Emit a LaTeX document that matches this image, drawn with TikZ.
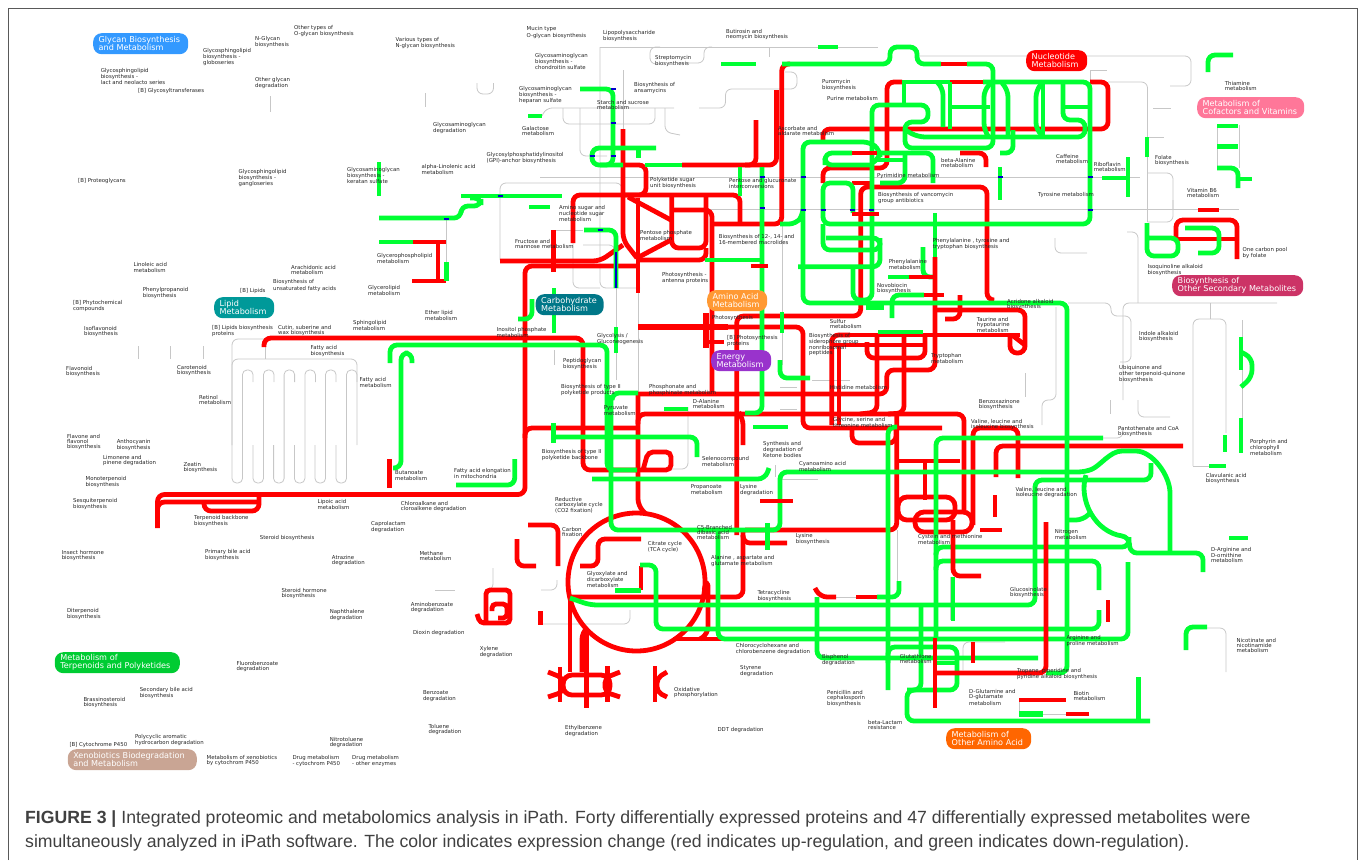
\documentclass[tikz,border=0pt]{standalone}
\usepackage{fontspec}
\setmainfont{DejaVu Sans}
\newfontfamily\capfont{Liberation Sans}
\usepackage{xcolor}
\usepackage{tikz}
\usetikzlibrary{positioning, calc}

\definecolor{upred}{RGB}{255,0,0}
\definecolor{dngreen}{RGB}{0,255,51}

\tikzset{
  rd/.style={draw=upred, line width=4.8pt, rounded corners=7pt},
  gn/.style={draw=dngreen, line width=4.8pt, rounded corners=7pt},
  gy/.style={draw=black!22, line width=0.8pt, rounded corners=6pt},
  bt/.style={draw=blue!80!black, line width=1.1pt},
  lbl/.style={anchor=north west, inner sep=0pt, align=left, text=black!85, font=\fontsize{5.4}{5.2}\selectfont},
  pill/.style={anchor=north west, rounded corners=8.5pt, inner xsep=5.5pt, inner ysep=0pt, minimum height=21pt, text=white, align=left, font=\fontsize{8.1}{8}\selectfont}
}

\begin{document}
\begin{tikzpicture}[x=1pt, y=-1pt]
  \useasboundingbox (0,0) rectangle (1358,860);

  % The frame
  \draw[black!65, line width=1pt] (8,860) -- (8,8) -- (1357,8) -- (1357,860);

  % Grey background pathways
  \draw[gy] (477,83) -- (477,94) -- (493.5,94) -- (493.5,83);
  \draw[gy] (270,96) -- (270,112);
  \draw[gy] (425,93) -- (425,107);
  \draw[gy] (600,47) -- (878,47);
  \draw[gy] (600,47) -- (600,288) -- (640,288);
  \draw[gy] (573,240) -- (573,288) -- (600,288);
  \draw[gy] (500,260) -- (500,183) -- (622,183) -- (622,192);
  \draw[gy] (542,116) -- (546,108) -- (674,108);
  \draw[gy] (563,108) -- (563,124) -- (655,124) -- (655,108);
  \draw[gy] (580,108) -- (580,156) -- (607,156);
  \draw[gy] (623.6,70) -- (623.6,130);
  \draw[gy] (660,47) -- (650,47) -- (650,64) -- (660,64);
  \draw[gy] (665,108) -- (665,132) -- (680,135);
  \draw[gy] (712,47) -- (704,47) -- (704,63) -- (680,63);
  \draw[gy] (769,47) -- (769,57);
  \draw[gy] (699,108) -- (725.5,108) -- (725.5,89) -- (797,89) -- (797,72) -- (785,72);
  \draw[gy] (918,56) -- (1191,56) -- (1191,86) -- (1170,86);
  \draw[gy] (540,177) -- (1140,177);
  \draw[gy] (700,209) -- (1239,209);
  \draw[gy] (1090,70) -- (1107,70);
  \draw[gy] (1090,70) -- (1090,82);
  \draw[gy] (1108,82) -- (1147.5,82) -- (1147.5,222);
  \draw[gy] (1153,108) -- (1171,108);
  \draw[gy] (1148,137) -- (1164,137);
  \draw[gy] (1148,173) -- (1173,173) -- (1173,210);
  \draw[gy] (1148,222) -- (1173,222) -- (1173,200);
  \draw[gy] (1055,238) -- (1055,253) -- (1087,253);
  \draw[gy] (1127,232) -- (1138,232) -- (1138,303);
  \draw[gy] (1068,303) -- (1111,303) -- (1111,316) -- (1131,316) -- (1131,362) -- (1120,362);
  \draw[gy] (1123,400) -- (1123,303) -- (1277,303);
  \draw[gy] (1138,400) -- (1138,417) -- (1170,417);
  \draw[gy] (1110,400) -- (1110,414);
  \draw[gy] (1123,427) -- (1123,438) -- (1103,438);
  \draw[gy] (1210,303) -- (1210,319);
  \draw[gy] (1193,466) -- (1193,319) -- (1226,319) -- (1226,433);
  \draw[gy] (1193,466) -- (1210,466);
  \draw[gy] (1242,320) -- (1242,420);
  \draw[gy] (1056,307) -- (1056,400) -- (1042,400) -- (1042,425);
  \draw[gy] (1025,373) -- (1025,397);
  \draw[gy] (1217.7,125) -- (1217.7,168);
  \draw[gy] (1239,125) -- (1239,168);
  \draw[gy] (138.3,346) -- (138.3,359);
  \draw[gy] (170.8,346) -- (170.8,359);
  \draw[gy] (203.4,346) -- (203.4,359);
  \draw[gy] (232,445) -- (232,339) -- (270,339);
  \draw[gy] (232,445) -- (232,359) -- (357,359) -- (357,445);
  \draw[gy] (265,339) -- (265,359);
  \foreach \cx in {232,253,273.6,294.4,315,336}{
    \draw[gy, rounded corners=4.5pt] (\cx,445) -- (\cx,483) -- ({\cx+10.5},483) -- ({\cx+10.5},370) -- ({\cx+21},370) -- ({\cx+21},382);
  }
  \draw[gy] (435,590) -- (455,590);
  \draw[gy] (493,568) -- (493,590) -- (485,590);
  \draw[gy] (557,580) -- (557,590) -- (541,590);
  \draw[gy] (542,624) -- (630,624) -- (630,610);
  \draw[gy] (688,407) -- (688,469) -- (670,469);
  \draw[gy] (616,283) -- (616,380);
  \draw[gy] (638,293) -- (638,400);
  \draw[gy] (554,350) -- (554,365);
  \draw[gy] (782,210) -- (782,365);
  \draw[gy] (775,465) -- (775,477);
  \draw[gy] (780,387) -- (797,387);
  \draw[gy] (780,409) -- (797,409);
  \draw[gy] (812,380) -- (850,380);
  \draw[gy] (780,479) -- (818,479);
  \draw[gy] (897,530) -- (897,590);
  \draw[gy] (963,670) -- (963,642) -- (1005,642);
  \draw[gy] (836,597) -- (856,597);
  \draw[gy] (1019,702) -- (1019,713);
  \draw[gy] (1043,714) -- (1067,714);
  \draw[gy] (1207,628) -- (1226,628) -- (1226,672);
  \draw[gy] (446.6,220) -- (446.6,275);
  \draw[gy] (555,230) -- (583,230);
  \draw[gy] (583,245) -- (615,245) -- (615,252);
  \draw[gy] (950.7,577) -- (950.7,620);

  % The red pathways
  \draw[rd] (623,129) -- (623,240) -- (637,258);
  \draw[rd] (623,165) -- (646,165) -- (646,195) -- (625,195);
  \draw[rd] (573,243) -- (573,195) -- (740,195) -- (740,223);
  \draw[rd] (500,261) -- (600,261) -- (623,245);
  \draw[rd] (157.5,528) -- (157.5,494.5) -- (525,494.5) -- (525,266) -- (637,266);
  \draw[rd] (157.5,512) -- (157.5,502) -- (259,502);
  \draw[rd] (259,495) -- (259,511) -- (204,511) -- (204,502);
  \draw[rd] (628,197) -- (671,220);
  \draw[rd] (637,258) -- (671,240);
  \draw[rd] (638,198) -- (638,293);
  \draw[rd] (671.7,195) -- (671.7,248) -- (706,248) -- (706,195);
  \draw[rd] (640,260) -- (706,260) -- (706,248);
  \draw[rd] (671,210) -- (712,210) -- (712,394);
  \draw[rd] (712,224) -- (781.7,224) -- (781.7,64) -- (790,64);
  \draw[rd] (682,165) -- (776.5,165) -- (776.5,90);
  \draw[rd] (745,165) -- (756,165) -- (756,120);
  \draw[rd] (553.8,230) -- (553.8,272);
  \draw[rd] (264,347) -- (264,338) -- (583,338) -- (583,470) -- (637,470);
  \draw[rd] (525,438) -- (525,428) -- (638,428);
  \draw[rd] (638,394) -- (886.7,394) -- (886.7,370) -- (935,370) -- (935,257);
  \draw[rd] (638,394) -- (638,506) -- (646,514);
  \draw[rd] (638,424) -- (638,414) -- (964,414) -- (964,510);
  \draw[rd] (736.7,535) -- (736.7,316) -- (860.7,316) -- (860.7,187) -- (987,187) -- (987,300) -- (992,300);
  \draw[rd] (852,183) -- (872,183);
  \draw[rd] (640,327) -- (803,327) -- (803,428) -- (942,428);
  \draw[rd, line width=6.5pt] (638,327) -- (728,327);
  \draw[rd, line width=6.5pt] (706,313) -- (706,348);
  \draw[rd] (706,342) -- (724,342);
  \draw[rd] (848,335) -- (1020,335);
  \draw[rd] (1010,335) -- (1010,353) -- (1025,353) -- (1025,310) -- (935,310);
  \draw[rd] (1012,335) -- (1025,345);
  \draw[rd] (831.7,425) -- (831.7,335) -- (850,335);
  \draw[rd] (839,425) -- (839,345);
  \draw[rd] (831,345) -- (926,345);
  \draw[rd] (867,342) -- (867,358) -- (925,358) -- (925,335);
  \draw[rd] (877,335) -- (877,412) -- (860,414);
  \draw[rd] (904,335) -- (904,413) -- (888,414);
  \draw[rd] (852,428) -- (852,443) -- (896,443) -- (896,428);
  \draw[rd] (896.7,414) -- (896.7,530) -- (745,530);
  \draw[rd] (898,461) -- (960,461);
  \draw[rd] (925,461) -- (925,500);
  \draw[rd, rounded corners=9pt] (898,497) rectangle (955,520);
  \draw[rd, rounded corners=9pt] (915,512) rectangle (972,532);
  \draw[rd] (973,525) -- (973,428) -- (1018,428) -- (1018,478);
  \draw[rd] (996,477) -- (996,446) -- (1183,446);
  \draw[rd] (995,495) -- (995,517);
  \draw[rd] (980,530) -- (1002,530);
  \draw[rd] (960,295) -- (960,319) -- (945,319);
  \draw[rd] (823,183) -- (823,168) -- (887,168) -- (887,82) -- (902,82);
  \draw[rd] (1090,82) -- (1108,82) -- (1108,129) -- (823,129) -- (823,143);
  \draw[rd] (950,82) -- (983,82);
  \draw[rd] (960,153) -- (986,153) -- (986,167);
  \draw[rd] (1176,238) -- (1176,220) -- (1237,220) -- (1237,259);
  \draw[rd] (1176,239) -- (1237,239);
  \draw[rd] (1198,210) -- (1219,210);
  \draw[rd] (413,242) -- (446,242);
  \draw[rd] (438,242) -- (438,281);
  \draw[rd] (412,281) -- (446,281);
  \draw[rd] (389.4,459) -- (389.4,488);

  % The citrate cycle
  \draw[rd] (636.5,582) ellipse [x radius=68.5, y radius=69];
  \draw[rd] (570,597) -- (743,597) -- (743,530);
  \draw[rd] (743,535) -- (743,543) -- (787,543);
  \draw[rd] (740,414) -- (743,418) -- (743,445);
  \draw[rd] (641,539) -- (598,539) -- (598,566) -- (580,566);
  \draw[rd] (641,566) -- (641,590);
  \draw[rd] (673,639) -- (725,639);
  \draw[rd] (704,590) -- (708,580) -- (708,634) -- (700,639);
  \draw[rd] (570,597) -- (570,672);
  \draw[rd] (582,672) -- (582,632) -- (587,628);
  \draw[rd] (586.7,630) -- (586.7,708);
  \draw[rd, rounded corners=9pt] (563,675) rectangle (610,695);
  \draw[rd] (560,667) -- (560,702);
  \draw[rd] (607.7,666) -- (607.7,702);
  \draw[rd, rounded corners=5pt] (548,672) -- (563,678) -- (563,692) -- (548,697);
  \draw[rd, rounded corners=5pt] (620,672) -- (605,678) -- (605,692) -- (620,697);
  \draw[rd] (655,666) -- (655,702);
  \draw[rd, rounded corners=5pt] (667,672) -- (657,678) -- (657,692) -- (667,697);
  \draw[rd] (528,525) -- (558,525) -- (558,566);
  \draw[rd] (517,539) -- (517,566) -- (536,566);
  \draw[rd] (540.7,611) -- (540.7,625);
  \draw[rd, rounded corners=4pt] (477,614) -- (480,623) -- (510,623) -- (510,590) -- (486,590) -- (486,622);
  \draw[rd, rounded corners=4pt] (492,611) -- (492,604) -- (507,604) -- (507,618) -- (498,618);
  \draw[rd, rounded corners=5pt] (643,470) -- (648,452) -- (671,452) -- (671,470) -- (640,470);
  \draw[rd] (815,588) -- (820,597) -- (836,597);
  \draw[rd] (856,597) -- (877,597);

  % The green pathways
  \draw[gn] (580,89) -- (613,89) -- (613,165) -- (600,165);
  \draw[gn] (656,148) -- (592,148) -- (592,165) -- (623,165);
  \draw[gn] (638.7,148) -- (638.7,158);
  \draw[gn] (528,116) -- (542,116);
  \draw[gn] (645,165) -- (682,165);
  \draw[gn] (740,167) -- (740,196);
  \draw[gn] (762,167) -- (762,413) -- (745,413);
  \draw[gn] (705,260) -- (762,260);
  \draw[gn] (782,312) -- (782,333);
  \draw[gn] (780,360) -- (780,378) -- (810,378);
  \draw[gn] (379,162) -- (379,196);
  \draw[gn] (461,196) -- (562,196);
  \draw[gn] (529,207) -- (550,207);
  \draw[gn] (379,218) -- (461,218) -- (461,206) -- (481,206) -- (481,198) -- (470,198);
  \draw[gn] (379,242) -- (413,242);
  \draw[gn] (446.6,262) -- (446.6,281);
  \draw[gn] (584,230) -- (616,230) -- (616,288);
  \draw[gn] (554,288) -- (554,333);
  \draw[gn] (518,319) -- (532,319) -- (532,299);
  \draw[gn] (616,327) -- (616,353);
  \draw[gn] (390,363) -- (390,345) -- (607,345) -- (607,470) -- (637,470);
  \draw[gn] (393,468) -- (401,468) -- (401,353) -- (412,353) -- (412,363);
  \draw[gn] (514.7,459) -- (514.7,485) -- (456,485);
  \draw[gn] (553.6,423) -- (553.6,443);
  \draw[gn] (553,437) -- (697,437) -- (697,457);
  \draw[gn] (592,479) -- (765,479) -- (769,468);
  \draw[gn] (612,400) -- (612,393) -- (638,393);
  \draw[gn] (664,409) -- (688,409);
  \draw[gn] (753,427) -- (788,427);
  \draw[gn] (767.7,523) -- (767.7,550);
  \draw[gn] (611,395) -- (611,530) -- (780,530) -- (780,472) -- (1085,472) .. controls (1100,466) and (1110,451) .. (1129,451) .. controls (1152,451) and (1170,475) .. (1170,500) -- (1170,553);
  \draw[gn] (1151,463) -- (1151,480) -- (1035,480) -- (1035,605) -- (590,605) -- (570,598);
  \draw[gn] (1086,475) .. controls (1078,500) and (1095,532) .. (1129,537) -- (1130,553) -- (1203,553) -- (1203,572);
  \draw[gn] (1068,520) -- (1083,520) -- (1090,513);
  \draw[gn] (936,637) -- (936,438) -- (1103,438);
  \draw[gn] (936,555) -- (936,547) -- (1129,547) -- (1129,537);
  \draw[gn] (936,570) -- (936,561) -- (1099,561) -- (1099,590);
  \draw[gn] (1099,610) -- (1099,629) -- (656,629) -- (656,565) -- (640,565);
  \draw[gn] (1128,562) -- (1128,639) -- (718,639) -- (718,530);
  \draw[gn] (888,690) -- (888,427) -- (897,427);
  \draw[gn] (877,597) -- (899,597) -- (899,581);
  \draw[gn] (817,597) -- (817,658) -- (1038,658);
  \draw[gn] (921,605) -- (921,690) -- (907,690) -- (907,721) -- (1150,721);
  \draw[gn] (888,663) -- (888,647) -- (957,647) -- (957,690) -- (907,690);
  \draw[gn] (935,663) -- (955,663);
  \draw[gn] (953,577) -- (953,621);
  \draw[gn, line width=6pt] (1019,714) -- (1043,714);
  \draw[gn] (1138.7,677) -- (1138.7,720);
  \draw[gn] (1186,650) -- (1186,627) -- (1207,627);
  \draw[gn] (1229,538) -- (1248,538);
  \draw[gn] (1209,466) -- (1226,466);
  \draw[gn] (1225,435) -- (1225,452);
  \draw[gn] (1241,418) -- (1241,453);
  \draw[gn] (1241,337) -- (1241,370);
  \draw[gn] (1241,352) -- (1252,358) -- (1252,377) -- (1241,387);
  \draw[gn] (615,590.7) -- (641,590.7);
  \draw[gn] (782,64) -- (890,64) -- (890,47) -- (917,47) -- (917,64) -- (941,64);
  \draw[gn] (967,64) -- (993,64) -- (993,135);
  \draw[gn] (902,82) -- (950,82);
  \draw[gn] (983,82) -- (1090,82) -- (1090,224) -- (823,224) -- (823,183) -- (853,183) -- (853,213);
  \draw[gn] (780,224) -- (796,224) -- (803,215) -- (803,142) -- (870,142) -- (880,150) -- (880,158) -- (872,163);
  \draw[gn] (803,210) -- (803,303) -- (1067,303) -- (1067,673) -- (1046,673);
  \draw[gn] (823,224) -- (823,250) -- (880,250) -- (880,238) -- (826,238);
  \draw[gn] (880,238) -- (880,266.7) -- (798,266.7);
  \draw[gn] (853,267) -- (853,300) -- (872,300) -- (872,105) -- (928,105) -- (928,122) -- (905,122) -- (905,148) -- (993,148) -- (993,135);
  \draw[gn] (904,82) -- (904,105);
  \draw[gn] (937,82) -- (943,88) -- (943,127);
  \draw[gn] (950,82) -- (950,129);
  \draw[gn] (950,107) -- (990,107);
  \draw[gn] (992,82) -- (984,90) -- (984,130) -- (988,136);
  \draw[gn] (905,130) -- (918,137) -- (1085,137) -- (1085,120) -- (1063,120) -- (1063,82);
  \draw[gn] (1063,107) -- (1088,107);
  \draw[gn] (1002,83) -- (1008,90) -- (1008,137);
  \draw[gn] (1013,130) -- (1013,153) -- (1000,153);
  \draw[gn] (1043,82) -- (1036,90) -- (1036,130) -- (1042,135);
  \draw[gn] (1043,82) -- (1043,135);
  \draw[gn] (825,165) -- (825,153) -- (852,153);
  \draw[gn] (877,153) -- (933,153) -- (933,183);
  \draw[gn] (825,160) -- (825,165) -- (872,165);
  \draw[gn] (877,160) -- (905,160);
  \draw[gn] (905,153) -- (905,183) -- (880,183);
  \draw[gn] (1000,167) -- (1000,200);
  \draw[gn] (935,213) -- (935,257);
  \draw[gn] (923,247) -- (923,277) -- (935,277);
  \draw[gn] (888,277) -- (909,277);
  \draw[gn] (892,318) -- (892,295) -- (924,295);
  \draw[gn] (878,332) -- (923,332);
  \draw[gn, line width=7pt] (866,306) -- (884,306);
  \draw[gn] (818,47) -- (838,47);
  \draw[gn] (721,64) -- (756,64);
  \draw[gn] (1208,72) -- (1208,55) -- (1233,55);
  \draw[gn] (1217,126) -- (1238,126);
  \draw[gn] (1217,146.7) -- (1238,146.7);
  \draw[gn] (1217,168) -- (1238,168) -- (1238,188);
  \draw[gn] (1238,179) -- (1252,179);
  \draw[gn] (1147,137) -- (1147,157);
  \draw[gn] (1128,157) -- (1128,197);
  \draw[gn] (1102,178) -- (1128,178);
  \draw[gn] (1147,223) -- (1147,256) -- (1178,256) -- (1178,238) -- (1147,238);
  \draw[gn] (1185,228) -- (1219,228) -- (1219,253) -- (1198,253);

  % Red pieces lying over the green
  \draw[rd] (751,266) -- (768,266);
  \draw[rd] (941,64) -- (967,64);
  \draw[rd] (852,153) -- (877,153);
  \draw[rd] (852,214) -- (879,214);
  \draw[rd] (909,277) -- (935,277);
  \draw[rd] (935,257) -- (935,300);
  \draw[rd] (924,295) -- (944,295);
  \draw[rd] (760,501) -- (793,501);
  \draw[rd] (1046,522) -- (1046,673) -- (935,673);
  \draw[rd] (935,638) -- (935,708);
  \draw[rd] (953,520) -- (953,576) -- (981,576);
  \draw[rd] (973,642) -- (973,663);
  \draw[rd] (1108,600) -- (1108,622);
  \draw[rd] (1019,700) -- (1066,700);
  \draw[rd] (1066,714) -- (1089,714);

  % Blue marks on the lines
  \foreach \bx/\by in {613/89, 613/123, 592/156, 613/156, 500/196, 446.6/219, 600/230, 762/177, 762/208, 803/177, 803/210, 823/210, 852/210, 871/210, 1000/177, 1090/177, 1090/210}{
    \draw[bt] ({\bx-2.5},\by) -- ({\bx+2.5},\by);
  }
  \draw[bt] (616,252) -- (616,288);

  % Small labels
  \node[lbl] (oglycanother) at (294,25) {Other types of\\O-glycan biosynthesis};
  \node[lbl] (nglycan) at (255,36) {N-Glycan\\biosynthesis};
  \node[lbl] (globoseries) at (203,48) {Glycosphingolipid\\biosynthesis -\\globoseries};
  \node[lbl] (lactneolacto) at (100.6,68) {Glycosphingolipid\\biosynthesis -\\lact and neolacto series};
  \node[lbl] (glycosyltrans) at (138,88) {[B] Glycosyltransferases};
  \node[lbl] (glycandeg) at (255,77) {Other glycan\\degradation};
  \node[lbl] (nglycanvar) at (395.5,37) {Various types of\\N-glycan biosynthesis};
  \node[lbl] (mucin) at (526.5,26.6) {Mucin type\\O-glycan biosynthesis};
  \node[lbl] (lipopoly) at (603,30) {Lipopolysaccharide\\biosynthesis};
  \node[lbl] (strepto) at (655,55) {Streptomycin\\biosynthesis};
  \node[lbl] (chondroitin) at (535,53) {Glycosaminoglycan\\biosynthesis -\\chondroitin sulfate};
  \node[lbl] (heparan) at (519,86) {Glycosaminoglycan\\biosynthesis -\\heparan sulfate};
  \node[lbl] (ansamycins) at (634,82) {Biosynthesis of\\ansamycins};
  \node[lbl] (starch) at (597,100) {Starch and sucrose\\metabolism};
  \node[lbl] (gagdeg) at (433,122) {Glycosaminoglycan\\degradation};
  \node[lbl] (galactose) at (522,126) {Galactose\\metabolism};
  \node[lbl] (gpianchor) at (486.5,152) {Glycosylphosphatidylinositol\\(GPI)-anchor biosynthesis};
  \node[lbl] (alphalin) at (421.5,164) {alpha-Linolenic acid\\metabolism};
  \node[lbl] (keratan) at (347,167) {Glycosaminoglycan\\biosynthesis -\\keratan sulfate};
  \node[lbl] (ganglio) at (238.5,169) {Glycosphingolipid\\biosynthesis -\\gangloseries};
  \node[lbl] (proteogly) at (78,178) {[B] Proteoglycans};
  \node[lbl] (aminosugar) at (559,205) {Amino sugar and\\nucleotide sugar\\metabolism};
  \node[lbl] (polyketsugar) at (650,176.7) {Polyketide sugar\\unit biosynthesis};
  \node[lbl] (pentosep) at (640,230) {Pentose phosphate\\metabolism};
  \node[lbl] (fructose) at (515,238.7) {Fructose and\\mannose metabolism};
  \node[lbl] (glycerophos) at (377,253) {Glycerophospholipid\\metabolism};
  \node[lbl] (linoleic) at (133.5,262.6) {Linoleic acid\\metabolism};
  \node[lbl] (arachidonic) at (291,264.7) {Arachidonic acid\\metabolism};
  \node[lbl] (unsatfatty) at (273,279.6) {Biosynthesis of\\unsaturated fatty acids};
  \node[lbl] (phenylprop) at (142.7,287) {Phenylpropanoid\\biosynthesis};
  \node[lbl] (blipids) at (240,288) {[B] Lipids};
  \node[lbl] (glycerolipid) at (368,285) {Glycerolipid\\metabolism};
  \node[lbl] (phytochem) at (73,300) {[B] Phytochemical\\compounds};
  \node[lbl] (etherlipid) at (425,310) {Ether lipid\\metabolism};
  \node[lbl] (isoflav) at (84,325.7) {Isoflavonoid\\biosynthesis};
  \node[lbl] (blipidsbio) at (212,325) {[B] Lipids biosynthesis\\proteins};
  \node[lbl] (cutin) at (278,325) {Cutin, suberine and\\wax biosynthesis};
  \node[lbl] (sphingo) at (353,320) {Sphingolipid\\metabolism};
  \node[lbl] (inositol) at (496.5,327) {Inositol phosphate\\metabolism};
  \node[lbl] (glycolysis) at (597,333) {Glycolysis /\\Gluconeogenesis};
  \node[lbl] (fattybio) at (310.5,344.7) {Fatty acid\\biosynthesis};
  \node[lbl] (peptidogly) at (563,358) {Peptidoglycan\\biosynthesis};
  \node[lbl] (flavonoid) at (66,365.7) {Flavonoid\\biosynthesis};
  \node[lbl] (carotenoid) at (177,365) {Carotenoid\\biosynthesis};
  \node[lbl] (fattymet) at (359.5,377) {Fatty acid\\metabolism};
  \node[lbl] (polykettwo) at (561,384) {Biosynthesis of type II\\polyketide products};
  \node[lbl] (phosphonate) at (649,384) {Phosphonate and\\phosphinate metabolism};
  \node[lbl] (retinol) at (199,395) {Retinol\\metabolism};
  \node[lbl] (antenna) at (662,272) {Photosynthesis -\\antenna proteins};
  \node[lbl] (macrolides) at (718.7,234) {Biosynthesis of 12-, 14- and\\16-membered macrolides};
  \node[lbl] (pentoseglu) at (729,177.7) {Pentose and glucuronate\\interconversions};
  \node[lbl] (ascorbate) at (778,126) {Ascorbate and\\aldarate metabolism};
  \node[lbl] (puromycin) at (822,78.7) {Puromycin\\biosynthesis};
  \node[lbl] (purine) at (827,96) {Purine metabolism};
  \node[lbl] (butirosin) at (726,29) {Butirosin and\\neomycin biosynthesis};
  \node[lbl] (betaala) at (941,158) {beta-Alanine\\metabolism};
  \node[lbl] (caffeine) at (1056,153.7) {Caffeine\\metabolism};
  \node[lbl] (riboflavin) at (1093.7,162) {Riboflavin\\metabolism};
  \node[lbl] (folate) at (1155,155) {Folate\\biosynthesis};
  \node[lbl] (pyrimidine) at (877,172.7) {Pyrimidine metabolism};
  \node[lbl] (vancomycin) at (878,192) {Biosynthesis of vancomycin\\group antibiotics};
  \node[lbl] (tyrosine) at (1038,191.7) {Tyrosine metabolism};
  \node[lbl] (vitaminb) at (1187,187.7) {Vitamin B6\\metabolism};
  \node[lbl] (thiamine) at (1224.7,81) {Thiamine\\metabolism};
  \node[lbl] (onecarbon) at (1242.4,246.7) {One carbon pool\\by folate};
  \node[lbl] (isoquin) at (1147.5,264) {Isoquinoline alkaloid\\biosynthesis};
  \node[lbl] (phetyrtrp) at (932.7,238) {Phenylalanine , tyrosine and\\tryptophan biosynthesis};
  \node[lbl] (phenylala) at (888.7,259) {Phenylalanine\\metabolism};
  \node[lbl] (novobiocin) at (877,283) {Novobiocin\\biosynthesis};
  \node[lbl] (sulfur) at (829.7,319) {Sulfur\\metabolism};
  \node[lbl] (acridone) at (1007,298.7) {Acridone alkaloid\\biosynthesis};
  \node[lbl] (taurine) at (976.7,317) {Taurine and\\hypotaurine\\metabolism};
  \node[lbl] (sidero) at (809,332.7) {Biosynthesis of\\siderophore group\\nonribosomal\\peptides};
  \node[lbl] (tryptophan) at (931,352.7) {Tryptophan\\metabolism};
  \node[lbl] (histidine) at (829.7,385) {Histidine metabolism};
  \node[lbl] (photosyn) at (712,314.7) {Photosynthesis};
  \node[lbl] (bphotosyn) at (727,335) {[B] Photosynthesis\\proteins};
  \node[lbl] (benzoxa) at (978.7,398.7) {Benzoxazinone\\biosynthesis};
  \node[lbl] (indole) at (1139,330.7) {Indole alkaloid\\biosynthesis};
  \node[lbl] (ubiquinone) at (1119,365) {Ubiquinone and\\other terpenoid-quinone\\biosynthesis};
  \node[lbl] (valbio) at (971,418.7) {Valine, leucine and\\isoleucine biosynthesis};
  \node[lbl] (glycine) at (833,417) {Glycine, serine and\\threonine metabolism};
  \node[lbl] (ketone) at (763,441) {Synthesis and\\degradation of\\Ketone bodies};
  \node[lbl] (cyanoamino) at (799,461) {Cyanoamino acid\\metabolism};
  \node[lbl] (dalanine) at (692.7,399) {D-Alanine\\metabolism};
  \node[lbl] (pyruvate) at (603.7,405) {Pyruvate\\metabolism};
  \node[lbl] (seleno) at (702,455.7) {Selenocompound\\metabolism};
  \node[lbl] (polykback) at (541.7,449) {Biosynthesis of type II\\polyketide backbone};
  \node[lbl] (propanoate) at (690.7,484) {Propanoate\\metabolism};
  \node[lbl] (lysinedeg) at (740,484) {Lysine\\degradation};
  \node[lbl] (butanoate) at (395,470.7) {Butanoate\\metabolism};
  \node[lbl] (fattyelong) at (454,468) {Fatty acid elongation\\in mitochondria};
  \node[lbl] (lipoic) at (317.4,498.7) {Lipoic acid\\metabolism};
  \node[lbl] (chloroalk) at (400.7,501) {Chloroalkane and\\cloroalkene degradation};
  \node[lbl] (terpback) at (194,515) {Terpenoid backbone\\biosynthesis};
  \node[lbl] (sesqui) at (73,498) {Sesquiterpenoid\\biosynthesis};
  \node[lbl] (monoterp) at (85.4,475.7) {Monoterpenoid\\biosynthesis};
  \node[lbl] (zeatin) at (183.4,462) {Zeatin\\biosynthesis};
  \node[lbl] (limonene) at (103,455) {Limonene and\\pinene degradation};
  \node[lbl] (anthocyanin) at (116.6,439) {Anthocyanin\\biosynthesis};
  \node[lbl] (flavone) at (66.8,434) {Flavone and\\flavonol\\biosynthesis};
  \node[lbl] (reductive) at (555,496.7) {Reductive\\carboxylate cycle\\(CO2 fixation)};
  \node[lbl] (carbonfix) at (562,526.7) {Carbon\\fixation};
  \node[lbl] (citrate) at (647.7,541) {Citrate cycle\\(TCA cycle)};
  \node[lbl] (glyoxylate) at (586.7,571) {Glyoxylate and\\dicarboxylate\\metabolism};
  \node[lbl] (caprolactam) at (371,521) {Caprolactam\\degradation};
  \node[lbl] (steroid) at (259.7,535) {Steroid biosynthesis};
  \node[lbl] (insect) at (61.6,550) {Insect hormone\\biosynthesis};
  \node[lbl] (primarybile) at (205,549) {Primary bile acid\\biosynthesis};
  \node[lbl] (atrazine) at (331.7,555) {Atrazine\\degradation};
  \node[lbl] (methane) at (419.3,551) {Methane\\metabolism};
  \node[lbl] (steroidhor) at (281.4,587.7) {Steroid hormone\\biosynthesis};
  \node[lbl] (diterpenoid) at (66.8,608) {Diterpenoid\\biosynthesis};
  \node[lbl] (naphthalene) at (329.6,609) {Naphthalene\\degradation};
  \node[lbl] (aminobenz) at (410.7,601.7) {Aminobenzoate\\degradation};
  \node[lbl] (dioxin) at (412.8,630) {Dioxin degradation};
  \node[lbl] (xylene) at (479.6,645.7) {Xylene\\degradation};
  \node[lbl] (fluorobenz) at (236.3,661) {Fluorobenzoate\\degradation};
  \node[lbl] (secbile) at (139.6,686.7) {Secondary bile acid\\biosynthesis};
  \node[lbl] (brassino) at (83.3,697) {Brassinosteroid\\biosynthesis};
  \node[lbl] (benzoate) at (422.8,690.7) {Benzoate\\degradation};
  \node[lbl] (toluene) at (428.4,723.7) {Toluene\\degradation};
  \node[lbl] (ethylbenz) at (565,724.7) {Ethylbenzene\\degradation};
  \node[lbl] (bcyto) at (69.4,741.7) {[B] Cytochrome P450};
  \node[lbl] (polycyclic) at (134.9,734) {Polycyclic aromatic\\hydrocarbon degradation};
  \node[lbl] (nitrotol) at (329.6,737) {Nitrotoluene\\degradation};
  \node[lbl] (xenocyto) at (206.4,754.7) {Metabolism of xenobiotics\\by cytochrom P450};
  \node[lbl] (drugcyto) at (292.3,754.7) {Drug metabolism\\- cytochrom P450};
  \node[lbl] (drugother) at (352,754.7) {Drug metabolism\\- other enzymes};
  \node[lbl] (oxphos) at (674,686.7) {Oxidative\\phosphorylation};
  \node[lbl] (styrene) at (740,665) {Styrene\\degradation};
  \node[lbl] (chlorocyc) at (735.7,642.7) {Chlorocyclohexane and\\chlorobenzene degradation};
  \node[lbl] (tetracycline) at (757.3,590) {Tetracycline\\biosynthesis};
  \node[lbl] (alanine) at (711,555) {Alanine , aspartate and\\glutamate metabolism};
  \node[lbl] (csbranched) at (697,525) {C5-Branched\\dibasic acid\\metabolism};
  \node[lbl] (lysinebio) at (795.7,532.7) {Lysine\\biosynthesis};
  \node[lbl] (ddt) at (717.3,727) {DDT degradation};
  \node[lbl] (penicillin) at (827,690) {Penicillin and\\cephalosporin\\biosynthesis};
  \node[lbl] (betalactam) at (868,719.7) {beta-Lactam\\resistance};
  \node[lbl] (bisphenol) at (821.8,654.3) {Bisphenol\\degradation};
  \node[lbl] (glutathione) at (899.7,654) {Glutathione\\metabolism};
  \node[lbl] (tropane) at (1017,668) {Tropane, piperidine and\\pyridine alkaloid biosynthesis};
  \node[lbl] (dglutamine) at (969,689.3) {D-Glutamine and\\D-glutamate\\metabolism};
  \node[lbl] (biotin) at (1073.3,691) {Biotin\\metabolism};
  \node[lbl] (arginine) at (1066.3,634.7) {Arginine and\\proline metabolism};
  \node[lbl] (glucosinolate) at (1010,587) {Glucosinolate\\biosynthesis};
  \node[lbl] (nitrogen) at (1054.7,529.3) {Nitrogen\\metabolism};
  \node[lbl] (cystein) at (918,534) {Cystein and methionine\\metabolism};
  \node[lbl] (valdeg) at (1015.3,487) {Valine, leucine and\\isoleucine degradation};
  \node[lbl] (pantothenate) at (1118,426) {Pantothenate and CoA\\biosynthesis};
  \node[lbl] (porphyrin) at (1249.8,439) {Porphyrin and\\chlorophyll\\metabolism};
  \node[lbl] (clavulanic) at (1205.6,473) {Clavulanic acid\\biosynthesis};
  \node[lbl] (darginine) at (1210.8,546.7) {D-Arginine and\\D-ornithine\\metabolism};
  \node[lbl] (nicotinate) at (1236.4,638) {Nicotinate and\\nicotinamide\\metabolism};

  % Category pills
  \node[pill, fill={rgb,255:red,51;green,153;blue,255}, text width=84pt] (glycanpill) at (93,33) {Glycan Biosynthesis\\and Metabolism};
  \node[pill, fill=upred, text width=50pt] (nucleotidepill) at (1026,50) {Nucleotide\\Metabolism};
  \node[pill, fill={rgb,255:red,255;green,119;blue,153}, text width=96pt] (cofactorpill) at (1197,97) {Metabolism of\\Cofactors and Vitamins};
  \node[pill, fill={rgb,255:red,204;green,51;blue,102}, text width=120pt] (secondarypill) at (1172,275) {Biosynthesis of\\Other Secondary Metabolites};
  \node[pill, fill={rgb,255:red,0;green,153;blue,153}, text width=49pt] (lipidpill) at (214,297) {Lipid\\Metabolism};
  \node[pill, fill={rgb,255:red,0;green,119;blue,136}, text width=57pt] (carbopill) at (535.5,294) {Carbohydrate\\Metabolism};
  \node[pill, fill={rgb,255:red,255;green,153;blue,51}, text width=49pt] (aminopill) at (707,290) {Amino Acid\\Metabolism};
  \node[pill, fill={rgb,255:red,153;green,51;blue,204}, text width=49pt] (energypill) at (711,350) {Energy\\Metabolism};
  \node[pill, fill={rgb,255:red,0;green,204;blue,51}, text width=114pt] (terpenoidpill) at (54.6,652) {Metabolism of\\Terpenoids and Polyketides};
  \node[pill, fill={rgb,255:red,201;green,165;blue,148}, text width=118pt] (xenopill) at (67.6,749) {Xenobiotics Biodegradation\\and Metabolism};
  \node[pill, fill={rgb,255:red,255;green,102;blue,0}, text width=74pt] (otheraminopill) at (946,728) {Metabolism of\\Other Amino Acid};

  % The caption
  \node[anchor=north west, inner sep=0pt, align=left, text=black!75, font=\capfont\fontsize{17.65}{24}\selectfont] (caption) at (25,810)
    {\textbf{FIGURE 3 |} Integrated proteomic and metabolomics analysis in iPath. Forty differentially expressed proteins and 47 differentially expressed metabolites were\\simultaneously analyzed in iPath software. The color indicates expression change (red indicates up-regulation, and green indicates down-regulation).};
\end{tikzpicture}
\end{document}
